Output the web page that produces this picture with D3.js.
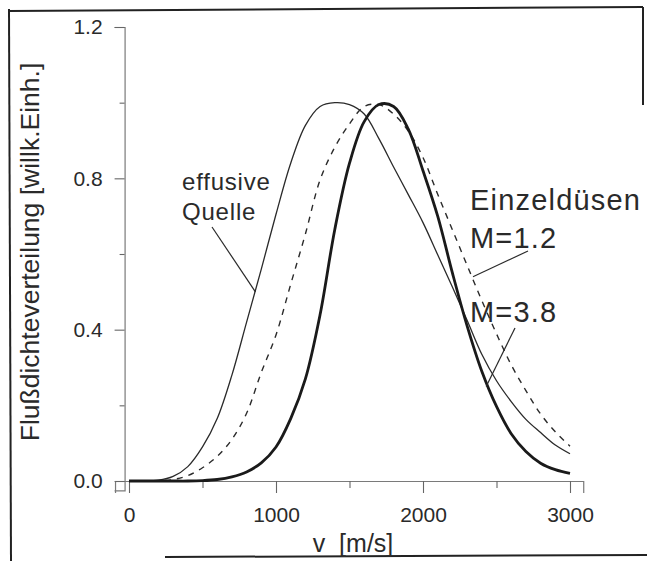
<!DOCTYPE html>
<html>
<head>
<meta charset="utf-8">
<script src="https://cdn.jsdelivr.net/npm/d3@7"></script>
<style>
  body { margin: 0; background: #fff; }
  text { font-family: "Liberation Sans", Arial, sans-serif; fill: #2a2a2a; }
</style>
</head>
<body>
<svg id="chart" width="647" height="561"></svg>
<script>
// velocity grid [m/s]
var speeds = [0,100,200,300,400,500,600,700,800,900,1000,1100,1200,1300,1400,1500,
              1600,1700,1800,1900,2000,2100,2200,2300,2400,2500,2600,2700,2800,2900,3000];
// effusive source (thin solid)
var effusive = [0,0,0.002,0.012,0.038,0.09,0.165,0.28,0.42,0.56,0.705,0.84,0.94,0.99,1.0,0.995,
                0.97,0.905,0.83,0.757,0.683,0.598,0.513,0.425,0.335,0.265,0.21,0.163,0.128,0.095,0.072];
// single nozzle M=1.2 (dashed)
var mach12 = [0,0,0,0.004,0.014,0.035,0.065,0.11,0.179,0.287,0.386,0.52,0.653,0.796,0.882,0.944,
              0.99,0.995,0.97,0.925,0.855,0.758,0.664,0.57,0.477,0.389,0.307,0.239,0.177,0.13,0.092];
// single nozzle M=3.8 (thick solid)
var mach38 = [0,0,0,0,0,0.001,0.004,0.011,0.024,0.048,0.09,0.165,0.27,0.44,0.665,0.84,
              0.95,0.995,0.99,0.93,0.82,0.70,0.55,0.41,0.29,0.197,0.125,0.078,0.047,0.03,0.02];

var xTicks = [0,1000,2000,3000];
var xMinor = [500,1500,2500];
var yTicks = [0.0,0.4,0.8,1.2];
var yMinor = [0.2,0.6,1.0];

var svg = d3.select("#chart");

var x = d3.scaleLinear().domain([0,3000]).range([129,570]);
var y = d3.scaleLinear().domain([0,1.2]).range([481,27]);

// frame of the scanned figure
var frame = svg.append("g").attr("stroke","#222").attr("stroke-width",2).attr("fill","none");
frame.append("line").attr("x1",9).attr("y1",9).attr("x2",11).attr("y2",561);
frame.append("line").attr("x1",9).attr("y1",11).attr("x2",643).attr("y2",7);
frame.append("line").attr("x1",643).attr("y1",7).attr("x2",643).attr("y2",105);
frame.append("line").attr("x1",165).attr("y1",557).attr("x2",647).attr("y2",555);

// axes (domain a bit wider than the data range, like the original)
var xAx = x.copy().domain([-95,3090]).range([x(-95),x(3090)]);
var yAx = y.copy().domain([-0.025,1.2]).range([y(-0.025),y(1.2)]);

svg.append("g").attr("transform","translate(0," + y(0) + ")")
  .call(d3.axisBottom(xAx).tickValues(xTicks).tickSize(12).tickPadding(14).tickFormat(d3.format("d")));
svg.append("g").attr("transform","translate(0," + y(0) + ")")
  .call(d3.axisBottom(xAx).tickValues(xMinor).tickSize(7).tickFormat(""))
  .select(".domain").remove();

svg.append("g").attr("transform","translate(" + x(-30) + ",0)")
  .call(d3.axisLeft(yAx).tickValues(yTicks).tickSize(10).tickPadding(12).tickFormat(d3.format(".1f")));
svg.append("g").attr("transform","translate(" + x(-30) + ",0)")
  .call(d3.axisLeft(yAx).tickValues(yMinor).tickSize(5).tickFormat(""))
  .select(".domain").remove();

svg.selectAll(".domain").attr("stroke","#7a7a7a").attr("stroke-width",1.2);
svg.selectAll(".tick line").attr("stroke","#666").attr("stroke-width",1.1);
svg.selectAll(".tick text").attr("font-size",21).attr("fill","#2a2a2a")
  .style("font-family","'Liberation Sans', Arial, sans-serif");

// axis titles
svg.append("text")
  .attr("transform","translate(39,252) rotate(-90)")
  .attr("text-anchor","middle")
  .attr("font-size",26.5)
  .text("Flußdichteverteilung [willk.Einh.]");

svg.append("text")
  .attr("x",353).attr("y",552)
  .attr("text-anchor","middle")
  .attr("font-size",25)
  .attr("xml:space","preserve")
  .text("v  [m/s]");

// curves
var line = function(vals) {
  return d3.line()
    .x(function(d, i) { return x(speeds[i]); })
    .y(function(d) { return y(Math.max(0, d)); })
    .curve(d3.curveCatmullRom.alpha(0.5))(vals);
};

svg.append("path").attr("d", line(effusive))
  .attr("fill","none").attr("stroke","#2a2a2a").attr("stroke-width",1.3);
svg.append("path").attr("d", line(mach12))
  .attr("fill","none").attr("stroke","#2a2a2a").attr("stroke-width",1.4)
  .attr("stroke-dasharray","6,6");
svg.append("path").attr("d", line(mach38))
  .attr("fill","none").attr("stroke","#1a1a1a").attr("stroke-width",2.8);

// annotations
var note = svg.append("g");
note.append("text").attr("x",182).attr("y",190).attr("font-size",24).attr("letter-spacing",0.8).text("effusive");
note.append("text").attr("x",182).attr("y",220).attr("font-size",24).attr("letter-spacing",0.8).text("Quelle");
note.append("line").attr("x1",212).attr("y1",227).attr("x2",x(860)).attr("y2",y(0.5))
  .attr("stroke","#2a2a2a").attr("stroke-width",1.2);

note.append("text").attr("x",470).attr("y",210).attr("font-size",29).attr("letter-spacing",1.2).text("Einzeldüsen");
note.append("text").attr("x",470).attr("y",248).attr("font-size",29).attr("letter-spacing",1.2).text("M=1.2");
note.append("line").attr("x1",528).attr("y1",251).attr("x2",x(2340)).attr("y2",y(0.54))
  .attr("stroke","#2a2a2a").attr("stroke-width",1.2);

note.append("text").attr("x",470).attr("y",322).attr("font-size",29).attr("letter-spacing",1.2).text("M=3.8");
note.append("line").attr("x1",515).attr("y1",328).attr("x2",x(2430)).attr("y2",y(0.25))
  .attr("stroke","#2a2a2a").attr("stroke-width",1.2);
</script>
</body>
</html>
